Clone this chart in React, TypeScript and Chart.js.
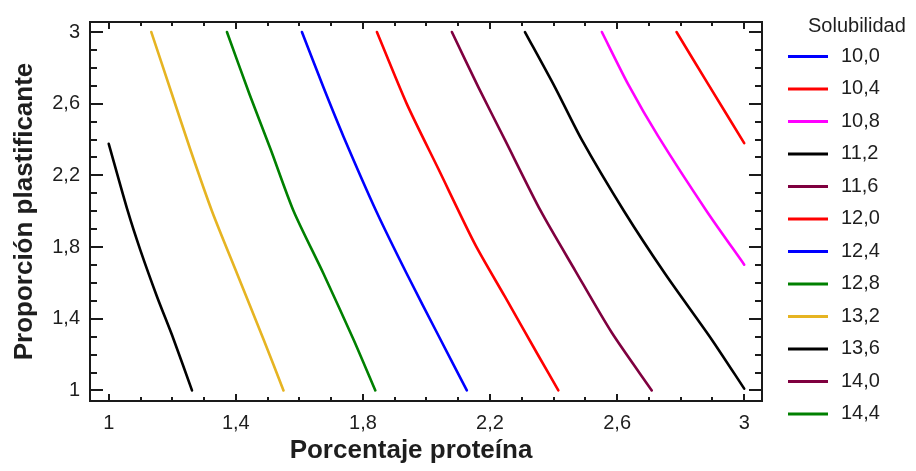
import React, { useEffect, useRef } from 'react';
import { Chart, registerables } from 'chart.js';

Chart.register(...registerables);

// ---- data ----
const levelLabels = ['10,0', '10,4', '10,8', '11,2', '11,6', '12,0', '12,4', '12,8', '13,2', '13,6', '14,0', '14,4'];
const levelColors = ['#0000ff', '#ff0000', '#ff00ff', '#000000', '#7f003f', '#ff0000', '#0000ff', '#008000', '#e6b422', '#000000', '#7f003f', '#008000'];

// contour lines: [Porcentaje proteína, Proporción plastificante]
const c100: number[][] = [];
const c104: number[][] = [[2.787, 3.0], [2.887, 2.708], [3.0, 2.38]];
const c108: number[][] = [[2.552, 3.0], [2.635, 2.708], [2.73, 2.416], [2.882, 2.0], [3.0, 1.702]];
const c112: number[][] = [[2.31, 3.0], [2.405, 2.69], [2.489, 2.398], [2.622, 2.0], [2.751, 1.651], [2.897, 1.286], [3.0, 1.01]];
const c116: number[][] = [[2.08, 3.0], [2.164, 2.69], [2.247, 2.398], [2.36, 2.0], [2.468, 1.669], [2.583, 1.323], [2.709, 1.0]];
const c120: number[][] = [[1.844, 3.0], [1.938, 2.599], [2.038, 2.234], [2.153, 1.815], [2.247, 1.523], [2.352, 1.195], [2.415, 1.0]];
const c124: number[][] = [[1.608, 3.0], [1.676, 2.69], [1.739, 2.416], [1.842, 2.0], [1.938, 1.651], [2.038, 1.305], [2.127, 1.0]];
const c128: number[][] = [[1.372, 3.0], [1.443, 2.653], [1.51, 2.343], [1.582, 2.0], [1.676, 1.651], [1.77, 1.286], [1.839, 1.0]];
const c132: number[][] = [[1.134, 3.0], [1.199, 2.653], [1.257, 2.343], [1.325, 2.0], [1.404, 1.651], [1.487, 1.286], [1.55, 1.0]];
const c136: number[][] = [[1.0, 2.376], [1.06, 2.0], [1.1, 1.78], [1.152, 1.523], [1.204, 1.286], [1.262, 1.0]];
const c140: number[][] = [];
const c144: number[][] = [];
const contours = [c100, c104, c108, c112, c116, c120, c124, c128, c132, c136, c140, c144];

const axisTickLabels = ['1', '1,4', '1,8', '2,2', '2,6', '3'];
const xTitle = 'Porcentaje proteína';
const yTitle = 'Proporción plastificante';
const legendTitle = 'Solubilidad';

const FONT = '"Liberation Sans", Arial, Helvetica, sans-serif';
const TEXT = '#1e1e1e';

function tickLabel(v: number): string {
  const r = Math.round(v * 10) - 10;
  if (r < 0 || r % 4 !== 0) return '';
  return axisTickLabels[r / 4] ?? '';
}

const decorPlugin = {
  id: 'decor',
  afterDraw(chart: any) {
    const { ctx, chartArea: a, scales } = chart;
    ctx.save();
    ctx.strokeStyle = '#1a1a1a';
    ctx.lineWidth = 2;
    ctx.strokeRect(a.left, a.top, a.right - a.left, a.bottom - a.top);
    const seg = (x1: number, y1: number, x2: number, y2: number) => {
      ctx.beginPath();
      ctx.moveTo(x1, y1);
      ctx.lineTo(x2, y2);
      ctx.stroke();
    };
    scales.x.ticks.forEach((t: any) => {
      const px = Math.round(scales.x.getPixelForValue(t.value));
      const len = t.label !== '' ? 7 : 4;
      seg(px, a.bottom, px, a.bottom - len);
      seg(px, a.top, px, a.top + len);
    });
    scales.y.ticks.forEach((t: any) => {
      const py = Math.round(scales.y.getPixelForValue(t.value));
      const len = t.label !== '' ? 13 : 7;
      seg(a.left, py, a.left + len, py);
      seg(a.right, py, a.right - len, py);
    });

    // axis titles
    ctx.fillStyle = TEXT;
    ctx.font = `bold 26px ${FONT}`;
    ctx.textAlign = 'center';
    ctx.textBaseline = 'alphabetic';
    ctx.fillText(xTitle, 411, 458);
    ctx.save();
    ctx.translate(32, (a.top + a.bottom) / 2);
    ctx.rotate(-Math.PI / 2);
    ctx.fillText(yTitle, 0, 0);
    ctx.restore();

    // legend
    ctx.textAlign = 'left';
    ctx.font = `20px ${FONT}`;
    ctx.fillText(legendTitle, 808, 32);
    chart.data.datasets.forEach((ds: any, i: number) => {
      const y = 56.5 + i * 32.5;
      ctx.strokeStyle = ds.borderColor;
      ctx.lineWidth = 3;
      seg(788, y, 828, y);
      ctx.textBaseline = 'middle';
      ctx.fillStyle = TEXT;
      ctx.fillText(ds.label, 841, y - 0.5);
    });
    ctx.restore();
  },
};

export default function App() {
  const ref = useRef<HTMLCanvasElement | null>(null);
  useEffect(() => {
    if (!ref.current) return;
    const datasets = levelLabels.map((lab, i) => ({
      label: lab,
      data: contours[i].map((p) => ({ x: p[0], y: p[1] })),
      borderColor: levelColors[i],
      backgroundColor: levelColors[i],
      borderWidth: 2.6,
      showLine: true,
      pointRadius: 0,
      tension: 0.25,
      borderJoinStyle: 'round' as const,
      borderCapStyle: 'round' as const,
    }));
    const tickFont = { family: FONT, size: 20 };
    const chart = new Chart(ref.current, {
      type: 'scatter',
      data: { datasets },
      options: {
        animation: false,
        responsive: false,
        maintainAspectRatio: false,
        layout: { padding: { left: 0, top: 15, right: 154, bottom: 0 } },
        plugins: { legend: { display: false }, tooltip: { enabled: false } },
        scales: {
          x: {
            type: 'linear',
            min: 0.941,
            max: 3.056,
            grid: { display: false, drawTicks: false },
            border: { display: false },
            afterFit: (s: any) => { s.height = 70; },
            ticks: {
              stepSize: 0.1,
              includeBounds: false,
              autoSkip: false,
              maxRotation: 0,
              minRotation: 0,
              padding: 10,
              color: TEXT,
              font: tickFont,
              callback: (v: any) => tickLabel(Number(v)),
            },
          },
          y: {
            type: 'linear',
            min: 0.941,
            max: 3.056,
            grid: { display: false, drawTicks: false },
            border: { display: false },
            afterFit: (s: any) => { s.width = 90; },
            ticks: {
              stepSize: 0.1,
              includeBounds: false,
              autoSkip: false,
              padding: 10,
              color: TEXT,
              font: tickFont,
              callback: (v: any) => tickLabel(Number(v)),
            },
          },
        },
      },
      plugins: [decorPlugin],
    });
    return () => chart.destroy();
  }, []);
  return (
    <div style={{ position: 'absolute', left: 0, top: 0, width: 916, height: 471, background: '#ffffff' }}>
      <canvas ref={ref} width={916} height={471} style={{ width: 916, height: 471, display: 'block' }} />
    </div>
  );
}
